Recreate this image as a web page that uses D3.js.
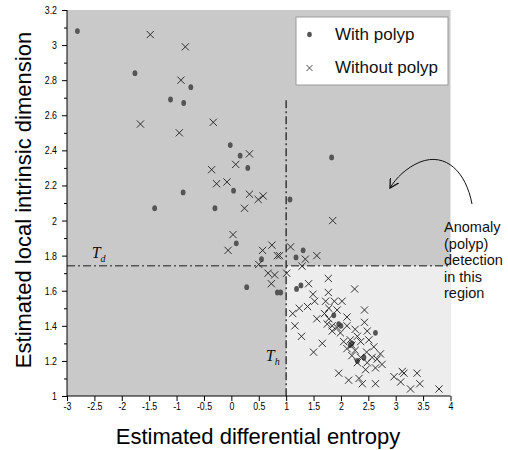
<!DOCTYPE html>
<html>
<head>
<meta charset="utf-8">
<script src="https://cdn.jsdelivr.net/npm/d3@7"></script>
<style>
  html, body { margin: 0; padding: 0; background: #fff; }
  svg { display: block; }
  .tick text { font-family: "Liberation Sans", Arial, sans-serif; font-size: 11px; fill: #000; }
</style>
</head>
<body>
<div class="chart-container"></div>
<script>
(function() {
  ////////////////////////////////////////////////////////////
  //// Data //////////////////////////////////////////////////
  ////////////////////////////////////////////////////////////
  // [differential entropy, local intrinsic dimension]
  const withPolyp = [
    [-2.81, 3.08], [-1.76, 2.84], [-0.74, 2.76], [-1.11, 2.69], [-0.87, 2.67],
    [-0.02, 2.43], [0.16, 2.37], [0.30, 2.30], [-0.88, 2.16], [0.04, 2.17],
    [-1.40, 2.07], [-0.30, 2.07], [1.83, 2.36], [1.07, 2.12], [0.09, 1.87],
    [0.55, 1.78], [1.31, 1.83], [1.18, 1.79], [0.28, 1.62], [0.84, 1.59],
    [0.90, 1.59], [1.27, 1.63], [1.19, 1.61], [1.87, 1.46], [1.96, 1.41],
    [2.00, 1.40], [2.20, 1.30], [2.17, 1.29], [2.42, 1.22], [2.30, 1.20],
    [2.63, 1.36]
  ];

  const withoutPolyp = [
    [-1.48, 3.06], [-0.84, 2.99], [-0.92, 2.80], [-1.66, 2.55], [-0.95, 2.50],
    [-0.33, 2.56], [0.33, 2.38], [0.08, 2.32], [-0.36, 2.29], [-0.08, 2.22],
    [-0.27, 2.21], [0.33, 2.15], [0.49, 2.12], [0.58, 2.14], [0.24, 2.07],
    [1.85, 2.00], [0.03, 1.92], [-0.06, 1.83], [0.57, 1.83], [0.74, 1.86],
    [0.84, 1.80], [0.88, 1.80], [1.08, 1.85], [1.35, 1.78], [1.56, 1.80],
    [0.50, 1.75], [1.29, 1.74], [0.67, 1.70], [0.79, 1.69], [1.01, 1.70],
    [0.73, 1.64], [1.41, 1.64], [1.77, 1.67], [1.77, 1.59], [1.49, 1.58],
    [2.25, 1.61], [1.52, 1.54], [1.39, 1.51], [1.24, 1.50], [1.12, 1.47],
    [1.16, 1.40], [1.28, 1.34], [1.50, 1.25], [1.66, 1.30], [1.72, 1.54],
    [1.88, 1.54], [2.02, 1.54], [1.56, 1.44], [1.70, 1.47], [1.78, 1.44],
    [1.75, 1.41], [1.84, 1.40], [1.93, 1.39], [1.84, 1.37], [1.99, 1.36],
    [2.11, 1.45], [2.11, 1.40], [2.26, 1.38], [2.43, 1.49], [2.43, 1.42],
    [2.48, 1.37], [2.30, 1.34], [2.17, 1.32], [2.05, 1.31], [2.20, 1.29],
    [2.11, 1.27], [2.26, 1.26], [2.36, 1.31], [2.51, 1.32], [2.60, 1.28],
    [2.47, 1.25], [2.57, 1.22], [2.36, 1.22], [2.20, 1.23], [2.30, 1.19],
    [2.48, 1.19], [2.66, 1.21], [2.75, 1.18], [2.63, 1.16], [2.45, 1.15],
    [2.72, 1.24], [1.96, 1.13], [2.14, 1.09], [2.33, 1.10], [2.39, 1.07],
    [2.63, 1.07], [2.97, 1.11], [3.12, 1.14], [3.09, 1.08], [3.27, 1.04],
    [3.39, 1.13], [3.44, 1.07], [3.79, 1.04], [3.15, 1.13], [1.78, 1.50],
    [1.93, 1.49]
  ];

  const xDomain = [-3, 4];
  const yDomain = [1, 3.2];
  const xTicks = d3.range(-3, 4.01, 0.5);
  const yTicks = d3.range(1, 3.21, 0.2);
  const yMinorTicks = d3.range(1.1, 3.2, 0.2);
  const thresholdH = 1;      // T_h, entropy
  const thresholdD = 1.742;  // T_d, dimension
  const thresholdHTop = 2.685;
  const legendLabels = ["With polyp", "Without polyp"];
  const noteLines = ["Anomaly", "(polyp)", "detection", "in this", "region"];

  ////////////////////////////////////////////////////////////
  //// Chart /////////////////////////////////////////////////
  ////////////////////////////////////////////////////////////
  const chartWidth = 508;
  const chartHeight = 450;
  const plot = { left: 67, right: 450.5, top: 10, bottom: 396 };
  const xHalf = 3.6;

  const xScale = d3.scaleLinear().domain(xDomain).range([plot.left, plot.right]);
  const yScale = d3.scaleLinear().domain(yDomain).range([plot.bottom, plot.top]);

  const svg = d3
    .select(".chart-container")
    .append("svg")
    .attr("width", chartWidth)
    .attr("height", chartHeight)
    .attr("viewBox", [0, 0, chartWidth, chartHeight]);

  const defs = svg.append("defs");
  defs
    .append("marker")
    .attr("id", "open-arrow")
    .attr("viewBox", [0, 0, 10, 10])
    .attr("refX", 9)
    .attr("refY", 5)
    .attr("markerWidth", 10)
    .attr("markerHeight", 10)
    .attr("markerUnits", "userSpaceOnUse")
    .attr("orient", "auto")
    .append("path")
    .attr("d", "M 0 0 L 9 5 L 0 10")
    .attr("fill", "none")
    .attr("stroke", "#111")
    .attr("stroke-width", 1.3);

  // Background regions
  svg
    .append("rect")
    .attr("x", xScale(xDomain[0]))
    .attr("y", yScale(yDomain[1]))
    .attr("width", xScale(xDomain[1]) - xScale(xDomain[0]))
    .attr("height", yScale(yDomain[0]) - yScale(yDomain[1]))
    .attr("fill", "#c9c9c9");
  svg
    .append("rect")
    .attr("x", xScale(thresholdH))
    .attr("y", yScale(thresholdD))
    .attr("width", xScale(xDomain[1]) - xScale(thresholdH))
    .attr("height", yScale(yDomain[0]) - yScale(thresholdD))
    .attr("fill", "#ededed");

  // Threshold lines
  svg
    .append("line")
    .attr("x1", xScale(xDomain[0]))
    .attr("x2", xScale(xDomain[1]))
    .attr("y1", yScale(thresholdD))
    .attr("y2", yScale(thresholdD))
    .attr("stroke", "#555")
    .attr("stroke-width", 1.5)
    .attr("stroke-dasharray", "8,3,2,3");
  svg
    .append("line")
    .attr("x1", xScale(thresholdH))
    .attr("x2", xScale(thresholdH))
    .attr("y1", yScale(thresholdHTop))
    .attr("y2", yScale(yDomain[0]))
    .attr("stroke", "#222")
    .attr("stroke-width", 1.3)
    .attr("stroke-dasharray", "8,3,2,3");

  // narrow the tick labels, the original uses a condensed face
  const narrow = function(sel) {
    sel.each(function() {
      const w = this.getComputedTextLength();
      d3.select(this)
        .attr("textLength", w * 0.8)
        .attr("lengthAdjust", "spacingAndGlyphs");
    });
  };

  // Axes
  svg
    .append("g")
    .attr("transform", `translate(0,${plot.bottom})`)
    .call(
      d3
        .axisBottom(xScale)
        .tickValues(xTicks)
        .tickSize(5)
        .tickPadding(1)
        .tickFormat(d => String(+d.toFixed(1)))
    )
    .call(g => g.select(".domain").attr("d", `M${plot.left},0H${plot.right}`))
    .call(g => g.selectAll(".tick text").attr("dy", "0.71em").call(narrow));

  svg
    .append("g")
    .attr("transform", `translate(${plot.left},0)`)
    .call(
      d3
        .axisLeft(yScale)
        .tickValues(yTicks)
        .tickSize(5)
        .tickPadding(5)
        .tickFormat(d => String(+d.toFixed(1)))
    )
    .call(g => g.select(".domain").attr("d", `M0,${plot.top}V${plot.bottom}`))
    .call(g => g.selectAll(".tick text").call(narrow))
    .call(g =>
      g
        .selectAll(".minor")
        .data(yMinorTicks)
        .join("line")
        .attr("class", "minor")
        .attr("stroke", "#000")
        .attr("x1", -3)
        .attr("x2", 0)
        .attr("y1", d => yScale(d) + 0.5)
        .attr("y2", d => yScale(d) + 0.5)
    );

  // Points
  svg
    .append("g")
    .selectAll("ellipse")
    .data(withPolyp)
    .join("ellipse")
    .attr("cx", d => xScale(d[0]))
    .attr("cy", d => yScale(d[1]))
    .attr("rx", 2.4)
    .attr("ry", 2.9)
    .attr("fill", "#555");

  svg
    .append("g")
    .attr("stroke", "#1e1e1e")
    .attr("stroke-width", 0.9)
    .selectAll("path")
    .data(withoutPolyp)
    .join("path")
    .attr("d", d => {
      const cx = xScale(d[0]);
      const cy = yScale(d[1]);
      return `M${cx - xHalf},${cy - xHalf}L${cx + xHalf},${cy + xHalf}M${cx - xHalf},${cy + xHalf}L${cx + xHalf},${cy - xHalf}`;
    });

  // Threshold labels
  const tLabel = function(x, y, sub) {
    const t = svg
      .append("text")
      .attr("x", x)
      .attr("y", y)
      .attr("font-family", "'Liberation Serif', 'Times New Roman', serif")
      .attr("font-style", "italic")
      .attr("font-size", 16)
      .attr("fill", "#111");
    t.append("tspan").text("T");
    t.append("tspan").attr("font-size", 10).attr("dy", 4).text(sub);
  };
  tLabel(xScale(-2.55), yScale(thresholdD) - 8, "d");
  tLabel(xScale(0.63), yScale(1.2), "h");

  // Legend
  const legend = svg.append("g").attr("transform", "translate(296,17)");
  legend
    .append("rect")
    .attr("width", 152)
    .attr("height", 68)
    .attr("fill", "#fff")
    .attr("stroke", "#9a9a9a");
  legend
    .append("ellipse")
    .attr("cx", 13.5)
    .attr("cy", 17.5)
    .attr("rx", 2.3)
    .attr("ry", 2.8)
    .attr("fill", "#555");
  legend
    .append("path")
    .attr("d", "M10.5,48L16.5,54M10.5,54L16.5,48")
    .attr("stroke", "#333")
    .attr("stroke-width", 0.9);
  legend
    .selectAll(".legend-label")
    .data(legendLabels)
    .join("text")
    .attr("class", "legend-label")
    .attr("x", 39)
    .attr("y", (d, i) => 23 + i * 33)
    .attr("font-family", "'Liberation Sans', Arial, sans-serif")
    .attr("font-size", 17)
    .attr("fill", "#111")
    .text(d => d);

  // Annotation
  svg
    .append("path")
    .attr("d", "M472,204 C466,172 446,152 420,162 C406,168 396,178 390,188")
    .attr("fill", "none")
    .attr("stroke", "#111")
    .attr("stroke-width", 1)
    .attr("marker-end", "url(#open-arrow)");
  svg
    .append("g")
    .selectAll("text")
    .data(noteLines)
    .join("text")
    .attr("x", 444)
    .attr("y", (d, i) => 232 + i * 16.5)
    .attr("font-family", "'Liberation Sans', Arial, sans-serif")
    .attr("font-size", 14.5)
    .attr("fill", "#111")
    .text(d => d);

  // Axis titles
  svg
    .append("text")
    .attr("x", 258)
    .attr("y", 444)
    .attr("text-anchor", "middle")
    .attr("font-family", "'Liberation Sans', Arial, sans-serif")
    .attr("font-size", 22)
    .attr("fill", "#000")
    .text("Estimated differential entropy");
  svg
    .append("text")
    .attr("transform", "translate(31,200) rotate(-90)")
    .attr("text-anchor", "middle")
    .attr("font-family", "'Liberation Sans', Arial, sans-serif")
    .attr("font-size", 22)
    .attr("fill", "#000")
    .text("Estimated local intrinsic dimension");
})();
</script>
</body>
</html>
